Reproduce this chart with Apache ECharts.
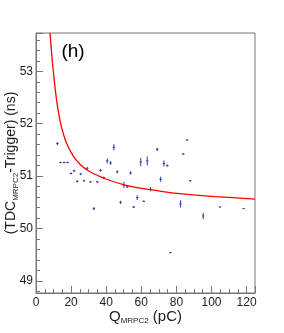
<!DOCTYPE html>
<html>
<head>
<meta charset="utf-8">
<script src="https://cdn.jsdelivr.net/npm/echarts@6/dist/echarts.min.js"></script>
<style>html,body{margin:0;padding:0;background:#fff;}#c{width:284px;height:333px;}</style>
</head>
<body>
<div id="c"></div>
<script>
// Data points (Q in pC, TDC-Trigger in ns) with errors
const qValues = [12.2, 13.9, 16.0, 18.0, 19.9, 21.7, 23.5, 25.5, 27.3, 29.2, 31.1, 33.0, 34.9, 36.8, 38.6, 40.6, 42.5, 44.4, 46.3, 48.2, 50.1, 52.0, 53.9, 55.7, 57.7, 59.7, 61.4, 63.4, 65.3, 69.1, 71.0, 72.9, 74.8, 76.6, 82.4, 83.9, 86.0, 87.9, 95.3, 104.8, 118.3];
const tValues = [51.62, 51.26, 51.26, 51.26, 51.05, 51.10, 50.90, 51.04, 50.91, 51.15, 50.89, 50.38, 50.89, 51.11, 50.97, 51.29, 51.25, 51.55, 51.08, 50.50, 50.83, 50.80, 51.06, 50.41, 50.59, 51.27, 50.52, 51.29, 50.75, 51.51, 50.94, 51.24, 51.20, 49.54, 50.47, 51.42, 51.69, 50.91, 50.24, 50.41, 50.38];
const qErrors = [0.7, 0.7, 0.7, 0.7, 0.7, 0.7, 0.7, 0.7, 0.7, 0.7, 0.7, 0.7, 0.7, 0.7, 0.7, 0.7, 0.7, 0.7, 0.7, 0.7, 0.7, 0.7, 0.7, 0.7, 0.7, 0.7, 0.7, 0.7, 0.7, 0.7, 0.7, 0.7, 0.7, 0.7, 0.7, 0.7, 0.7, 0.7, 0.7, 0.7, 0.7];
const tErrors = [0.03, 0.015, 0.015, 0.015, 0.02, 0.025, 0.02, 0.02, 0.02, 0.025, 0.015, 0.03, 0.02, 0.025, 0.02, 0.045, 0.035, 0.06, 0.03, 0.03, 0.06, 0.03, 0.03, 0.02, 0.045, 0.08, 0.015, 0.085, 0.04, 0.03, 0.05, 0.06, 0.02, 0.01, 0.07, 0.015, 0.015, 0.015, 0.06, 0.01, 0.01];
// Fit curve
const fitQ = [7.98, 8.95, 9.86, 10.83, 11.8, 13.68, 15.56, 17.5, 21.25, 25.07, 28.9, 32.65, 40.3, 50.7, 62.1, 73.5, 82, 102, 124.8];
const fitT = [53.73, 53.33, 53.00, 52.70, 52.43, 52.06, 51.81, 51.62, 51.38, 51.225, 51.12, 51.05, 50.94, 50.83, 50.755, 50.70, 50.665, 50.61, 50.56];
const xTicks = [0, 20, 40, 60, 80, 100, 120];
const yTicks = [49, 50, 51, 52, 53];

const pointColor = '#3a3aa8';
const frameColor = '#777';
const textColor = '#222';

const chart = echarts.init(document.getElementById('c'), null, {renderer: 'canvas'});
const pts = qValues.map((q, i) => [q, tValues[i], qErrors[i], tErrors[i]]);
const fit = fitQ.map((q, i) => [q, fitT[i]]);

chart.setOption({
  animation: false,
  backgroundColor: '#fff',
  grid: {left: 36, right: 29, top: 33, bottom: 40, show: true, borderColor: frameColor, borderWidth: 1, backgroundColor: 'transparent', outerBoundsMode: 'none', containLabel: false},
  xAxis: {
    type: 'value', min: 0, max: 124.8, interval: 20,
    name: '{a|Q}{s|MRPC2}{a| (pC)}', nameLocation: 'middle', nameGap: 15, nameMoveOverlap: false,
    nameTextStyle: {rich: {a: {fontSize: 15, fontFamily: 'Liberation Sans', color: textColor}, s: {fontSize: 8, fontFamily: 'Liberation Sans', color: textColor, padding: [9, 0, 0, 0]}}},
    axisLine: {lineStyle: {color: frameColor, width: 1}},
    axisTick: {inside: true, length: 7, lineStyle: {color: frameColor}},
    minorTick: {show: true, splitNumber: 4, length: 4, lineStyle: {color: frameColor}},
    splitLine: {show: false},
    axisLabel: {fontSize: 12, fontFamily: 'Liberation Sans', color: textColor, margin: 4,
      formatter: v => xTicks.indexOf(Math.round(v * 1000) / 1000) >= 0 ? String(Math.round(v)) : ''}
  },
  yAxis: {
    type: 'value', min: 48.77, max: 53.73, splitNumber: 5,
    name: '{a|(TDC}{s|MRPC2}{a|-Trigger) (ns)}', nameLocation: 'middle', nameGap: 16, nameRotate: 90, nameMoveOverlap: false,
    nameTextStyle: {rich: {a: {fontSize: 14, fontFamily: 'Liberation Sans', color: textColor}, s: {fontSize: 8, fontFamily: 'Liberation Sans', color: textColor, padding: [9, 0, 0, 0]}}},
    axisLine: {show: true, lineStyle: {color: frameColor, width: 1}},
    axisTick: {show: true, inside: true, length: 7, lineStyle: {color: frameColor}},
    minorTick: {show: true, splitNumber: 5, length: 4, lineStyle: {color: frameColor}},
    splitLine: {show: false},
    axisLabel: {fontSize: 12, fontFamily: 'Liberation Sans', color: textColor, margin: 3,
      formatter: v => yTicks.indexOf(Math.round(v * 1000) / 1000) >= 0 ? String(Math.round(v)) : ''}
  },
  graphic: [{type: 'text', x: 73, y: 52, style: {text: '(h)', fontSize: 19, fontFamily: 'Liberation Sans', fill: '#000', align: 'center', verticalAlign: 'middle'}}],
  series: [
    {
      type: 'custom', data: pts, clip: true, z: 3,
      renderItem: function (params, api) {
        const x = api.value(0), y = api.value(1), ex = api.value(2), ey = api.value(3);
        const l = api.coord([x - ex, y]), r = api.coord([x + ex, y]);
        const t = api.coord([x, y + ey]), b = api.coord([x, y - ey]);
        const st = {stroke: pointColor, lineWidth: 1};
        return {type: 'group', children: [
          {type: 'line', shape: {x1: l[0], y1: l[1], x2: r[0], y2: r[1]}, style: st},
          {type: 'line', shape: {x1: t[0], y1: t[1], x2: b[0], y2: b[1]}, style: st}
        ]};
      }
    },
    {
      type: 'line', data: fit, smooth: 0.3, showSymbol: false, symbol: 'none', clip: true, z: 4,
      lineStyle: {color: '#ff0000', width: 1.3}
    }
  ]
});
</script>
</body>
</html>
